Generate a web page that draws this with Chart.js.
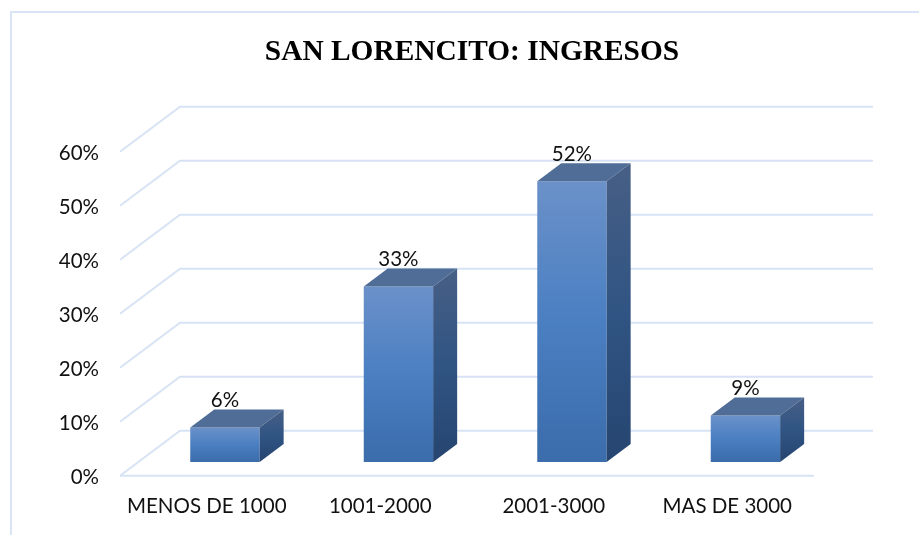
<!DOCTYPE html>
<html>
<head>
<meta charset="utf-8">
<style>html,body{margin:0;padding:0;background:#fff;overflow:hidden}canvas{display:block}</style>
<script src="https://cdn.jsdelivr.net/npm/chart.js@4/dist/chart.umd.js"></script>
</head>
<body>
<canvas id="c" width="919" height="535"></canvas>
<script>
const titleText = 'SAN LORENCITO: INGRESOS';
const categories = ['MENOS DE 1000', '1001-2000', '2001-3000', 'MAS DE 3000'];
const values = [6.4, 32.5, 52, 8.6];
const yTicks = [0, 10, 20, 30, 40, 50, 60];

const GRID = '#d7e3f5';
const BORDER = '#d9e4f6';
const TEXT = '#111111';
const LABEL_FONT = 'Lato, Carlito, sans-serif';
const WALL = { dx: 60, dy: 45, right: 873 };     // depth of the floor and wall
const BAR_SHIFT = { dx: 18.2, dy: 13.7 };        // bars stand inside the floor
const BAR_DEPTH = { dx: 24, dy: 18 };            // depth of each bar

function frontGradient(ctx) {
  const chart = ctx.chart, y = chart.scales.y;
  const fallback = '#4a7fc1';
  if (!y || ctx.raw === undefined) return fallback;
  const top = y.getPixelForValue(ctx.raw), bottom = y.getPixelForValue(0);
  if (!isFinite(top) || !isFinite(bottom)) return fallback;
  const g = chart.ctx.createLinearGradient(0, top, 0, bottom);
  g.addColorStop(0, '#6b91c9');
  g.addColorStop(0.5, '#4a7fc2');
  g.addColorStop(1, '#3b6cab');
  return g;
}

const chrome3d = {
  id: 'chrome3d',
  beforeDraw(chart) {
    const c = chart.ctx;
    c.save();
    c.strokeStyle = BORDER; c.lineWidth = 2;
    c.beginPath(); c.moveTo(11, 535); c.lineTo(11, 12); c.lineTo(919, 12); c.stroke();
    c.restore();
  },
  beforeDatasetsDraw(chart) {
    const c = chart.ctx, s = chart.scales.y, a = chart.chartArea;
    c.save();
    c.strokeStyle = GRID; c.lineWidth = 2; c.lineJoin = 'miter';
    yTicks.forEach(v => {
      const y = s.getPixelForValue(v);
      c.beginPath();
      c.moveTo(a.left, y);
      c.lineTo(a.left + WALL.dx, y - WALL.dy);
      c.lineTo(WALL.right, y - WALL.dy);
      c.stroke();
    });
    const y0 = s.getPixelForValue(0);
    c.beginPath(); c.moveTo(a.left, y0); c.lineTo(a.right, y0); c.stroke();
    c.restore();
  },
  beforeDatasetDraw(chart) {
    chart.ctx.save();
    chart.ctx.translate(BAR_SHIFT.dx, -BAR_SHIFT.dy);
  },
  afterDatasetDraw(chart) {
    const c = chart.ctx;
    const meta = chart.getDatasetMeta(0);
    meta.data.forEach((bar, i) => {
      const p = bar.getProps(['x', 'y', 'base', 'width'], true);
      const l = p.x - p.width / 2, r = p.x + p.width / 2;
      const dx = BAR_DEPTH.dx, dy = BAR_DEPTH.dy;
      // top face
      c.fillStyle = '#4f6d97';
      c.beginPath();
      c.moveTo(l, p.y); c.lineTo(l + dx, p.y - dy); c.lineTo(r + dx, p.y - dy); c.lineTo(r, p.y);
      c.closePath(); c.fill();
      // side face
      const g = c.createLinearGradient(0, p.y - dy, 0, p.base);
      g.addColorStop(0, '#475f85');
      g.addColorStop(0.5, '#305483');
      g.addColorStop(1, '#264570');
      c.fillStyle = g;
      c.beginPath();
      c.moveTo(r, p.y); c.lineTo(r + dx, p.y - dy); c.lineTo(r + dx, p.base - dy); c.lineTo(r, p.base);
      c.closePath(); c.fill();
      // value label
      c.fillStyle = TEXT;
      c.font = '20.5px ' + LABEL_FONT;
      c.textAlign = 'center'; c.textBaseline = 'middle';
      c.fillText(Math.round(values[i]) + '%', p.x, p.y - 27);
    });
    c.restore();
  },
  afterLayout(chart) {
    // the title sits right of the centre of the laid-out box
    chart.titleBlock.left += 130;
  }
};

new Chart(document.getElementById('c'), {
  type: 'bar',
  data: {
    labels: categories,
    datasets: [{
      data: values,
      backgroundColor: frontGradient,
      borderWidth: 0,
      barPercentage: 0.4,
      categoryPercentage: 1
    }]
  },
  plugins: [chrome3d],
  options: {
    responsive: false,
    animation: false,
    layout: { padding: { left: 0, right: 105, top: 0, bottom: 0 } },
    plugins: {
      legend: { display: false },
      tooltip: { enabled: false },
      title: {
        display: true,
        text: titleText,
        color: '#000000',
        font: { family: '"Liberation Serif", serif', size: 29.4, weight: 'bold', lineHeight: 1.2 },
        padding: { top: 35, bottom: 81.4 }
      }
    },
    scales: {
      x: {
        grid: { display: false, drawTicks: false },
        border: { display: false },
        ticks: {
          color: TEXT, maxRotation: 0, autoSkip: false, padding: 18.5,
          font: { family: LABEL_FONT, size: 20.5 }
        },
        afterFit(s) { s.height = 59.3; }
      },
      y: {
        min: 0, max: 60,
        afterBuildTicks(s) { s.ticks = yTicks.map(v => ({ value: v })); },
        grid: { display: false, drawTicks: false },
        border: { display: false },
        ticks: {
          color: TEXT, padding: 21, labelOffset: 1.5,
          callback: v => v + '%',
          font: { family: LABEL_FONT, size: 20.5 }
        },
        afterFit(s) { s.width = 120; }
      }
    }
  }
});
</script>
</body>
</html>
